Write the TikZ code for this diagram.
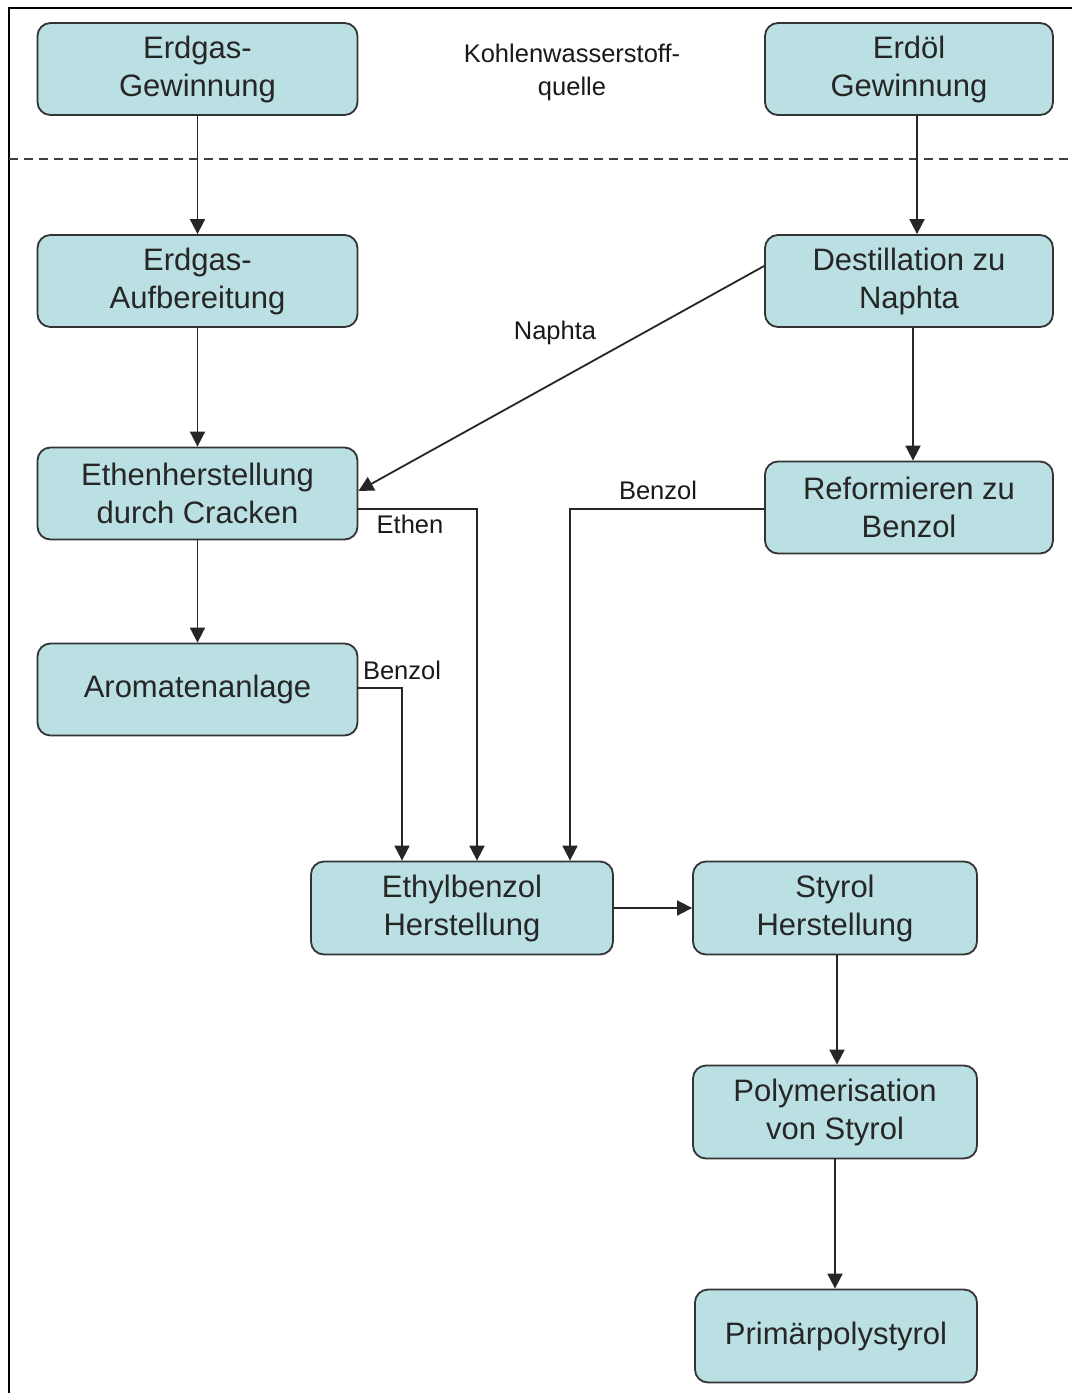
\documentclass[tikz,border=0pt]{standalone}
\usepackage{fontspec}
\setmainfont{Liberation Sans}
\usetikzlibrary{arrows.meta}
\definecolor{boxfill}{HTML}{BBE0E3}
\definecolor{boxline}{HTML}{333333}
\begin{document}
\begin{tikzpicture}[x=1pt,y=-1pt,
  procbox/.style={draw=boxline,line width=1.8pt,fill=boxfill,rounded corners=13pt,
    inner sep=0pt,align=center,font=\fontsize{31}{38}\selectfont,text=black!85},
  flow/.style={draw=black!85,line width=1.8pt,-{Triangle[length=15pt,width=15pt]}},
  lbl/.style={font=\fontsize{25.5}{30}\selectfont,inner sep=0pt,text=black!90}]
\useasboundingbox (0,0) rectangle (1072,1393);
\fill[white] (0,0) rectangle (1072,1393);
\draw[line width=2.4pt] (9,1393) -- (9,8) -- (1072,8);
\draw[dashed,dash pattern=on 9pt off 6pt,line width=1.6pt,draw=black!75] (9,159) -- (1072,159);

\node[procbox,minimum width=320pt,minimum height=92pt] (eg) at (197.5,69) {Erdgas-\\Gewinnung};
\node[procbox,minimum width=288pt,minimum height=92pt] (eo) at (909,69) {Erdöl\\Gewinnung};
\node[procbox,minimum width=320pt,minimum height=92pt] (ea) at (197.5,281) {Erdgas-\\Aufbereitung};
\node[procbox,minimum width=288pt,minimum height=92pt] (dn) at (909,281) {Destillation zu\\Naphta};
\node[procbox,minimum width=320pt,minimum height=92pt] (ec) at (197.5,493.5) {Ethenherstellung\\durch Cracken};
\node[procbox,minimum width=288pt,minimum height=92pt] (rb) at (909,507.5) {Reformieren zu\\Benzol};
\node[procbox,minimum width=320pt,minimum height=92pt] (ar) at (197.5,689.5) {Aromatenanlage};
\node[procbox,minimum width=302pt,minimum height=93pt] (eb) at (462,908) {Ethylbenzol\\Herstellung};
\node[procbox,minimum width=284pt,minimum height=93pt] (st) at (835,908) {Styrol\\Herstellung};
\node[procbox,minimum width=284pt,minimum height=93pt] (po) at (835,1112) {Polymerisation\\von Styrol};
\node[procbox,minimum width=282pt,minimum height=93pt] (pp) at (836,1336) {Primärpolystyrol};

\node[lbl,align=center,font=\fontsize{25.5}{33}\selectfont] (kw) at (572,72) {Kohlenwasserstoff-\\quelle};
\node[lbl] (ln) at (555,333) {Naphta};
\node[lbl] (le) at (410,524) {Ethen};
\node[lbl] (lb1) at (658,490) {Benzol};
\node[lbl] (lb2) at (402,670) {Benzol};

\draw[flow] (eg.south) -- (ea.north);
\draw[flow] (ea.south) -- (ec.north);
\draw[flow] (ec.south) -- (ar.north);
\draw[flow] (eo.south -| 917,0) -- (dn.north -| 917,0);
\draw[flow] (dn.south -| 913,0) -- (rb.north -| 913,0);
\draw[flow] (dn.west |- 0,266) -- (ec.east |- 0,491);
\draw[flow] (ec.east |- 0,509) -| (eb.north -| 477,0);
\draw[flow] (rb.west |- 0,509) -| (eb.north -| 570,0);
\draw[flow] (ar.east |- 0,688) -| (eb.north -| 402,0);
\draw[flow] (eb.east) -- (st.west);
\draw[flow] (st.south -| 837,0) -- (po.north -| 837,0);
\draw[flow] (po.south) -- (pp.north -| 835,0);
\end{tikzpicture}
\end{document}
